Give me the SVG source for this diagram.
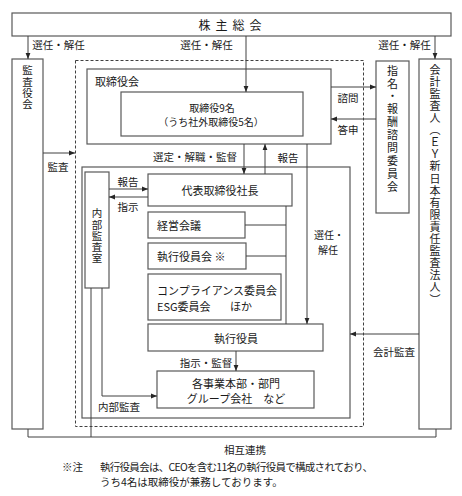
<svg xmlns="http://www.w3.org/2000/svg" width="462" height="496" viewBox="0 0 462 496">
<style>
.box{fill:#fff;stroke:#595959;stroke-width:1.2}
.dash{fill:none;stroke:#404040;stroke-width:1;stroke-dasharray:3 2}
.ln{fill:none;stroke:#404040;stroke-width:1}
.arr{marker-end:url(#ah)}
text{font-family:"Noto Sans CJK JP","Noto Sans",sans-serif;fill:#1a1a1a;dominant-baseline:central}
.b{font-size:11px}
.l{font-size:10.5px}
.s{font-size:10px}
.m{text-anchor:middle}
text.vt{writing-mode:vertical-rl;dominant-baseline:auto;font-size:10.5px}
</style>
<defs>
<marker id="ah" viewBox="0 0 10 10" refX="10" refY="5" markerWidth="6" markerHeight="6" orient="auto" markerUnits="userSpaceOnUse">
<path d="M0,1 L10,5 L0,9 z" fill="#262626"/>
</marker>
</defs>
<rect width="462" height="496" fill="#fff"/>

<g id="exec-area">
<rect class="dash" x="75.5" y="60.5" width="288" height="366"/>
<rect class="box" x="82" y="167" width="268" height="251"/>
</g>

<g id="shareholders">
<rect class="box" x="12" y="13" width="439" height="23"/>
<text x="232.5" y="24.5" text-anchor="middle" style="font-size:12px;letter-spacing:5px">株主総会</text>
</g>

<g id="kansayakukai">
<rect class="box" x="12" y="59" width="31" height="370"/>
<text class="vt" x="27.5" y="65" style="letter-spacing:0.8px">監査役会</text>
</g>

<g id="board">
<rect class="box" x="87" y="69" width="244" height="75"/>
<text class="b" x="95" y="81">取締役会</text>
</g>

<g id="directors">
<rect class="box" x="121" y="92" width="182" height="44"/>
<text class="s m" x="212" y="107">取締役9名</text>
<text class="s m" x="211" y="121">（うち社外取締役5名）</text>
</g>

<g id="nomination">
<rect class="box" x="376" y="61" width="33" height="152"/>
<text class="vt" x="392.5" y="65" style="font-size:11px;letter-spacing:1.9px">指名・報酬諮問委員会</text>
</g>

<g id="auditor">
<rect class="box" x="419" y="59" width="32" height="370"/>
<text class="vt" x="435" y="64" style="font-size:11px;letter-spacing:1.1px">会計監査人（ＥＹ新日本有限責任監査法人）</text>
</g>

<g id="internal-audit">
<rect class="box" x="85" y="172" width="24" height="116"/>
<text class="vt" x="97" y="208" style="letter-spacing:0.8px">内部監査室</text>
</g>

<g id="president">
<rect class="box" x="148" y="174" width="144" height="32"/>
<text class="b m" x="220" y="190">代表取締役社長</text>
</g>

<g id="management-meeting">
<rect class="box" x="148" y="212" width="97" height="26"/>
<text class="b" x="157" y="225">経営会議</text>
</g>

<g id="exec-committee">
<rect class="box" x="148" y="243" width="98" height="26"/>
<text class="b" x="157" y="256">執行役員会 ※</text>
</g>

<g id="committees">
<rect class="box" x="148" y="274" width="133" height="46"/>
<text class="b" x="157" y="290">コンプライアンス委員会</text>
<text class="b" x="157" y="306">ESG委員会<tspan x="230">ほか</tspan></text>
</g>

<g id="executives">
<rect class="box" x="148" y="324" width="175" height="27"/>
<text class="b m" x="236" y="337.5">執行役員</text>
</g>

<g id="divisions">
<rect class="box" x="157" y="371" width="157" height="37"/>
<text class="b m" x="236" y="383">各事業本部・部門</text>
<text class="b m" x="236" y="398">グループ会社　など</text>
</g>

<g id="connectors">
<path class="ln arr" d="M28,36 V59"/>
<path class="ln arr" d="M246,36 V92"/>
<path class="ln arr" d="M435,36 V59"/>
<path class="ln arr" d="M43,153 H75"/>
<path class="ln arr" d="M331,87 H376"/>
<path class="ln arr" d="M376,119 H331"/>
<path class="ln arr" d="M244,144 V174"/>
<path class="ln arr" d="M265,174 V144"/>
<path class="ln arr" d="M307,144 V324"/>
<path class="ln arr" d="M109,189 H148"/>
<path class="ln arr" d="M148,197 H109"/>
<path class="ln" d="M286,206 V324 M245,225 H286 M246,256 H286"/>
<path class="ln arr" d="M236,351 V371"/>
<path class="ln arr" d="M102,288 V396 H157"/>
<path class="ln" d="M28,429 V437 H436 V429 M91,288 V437"/>
<path class="ln arr" d="M419,334 H350"/>

<text class="l m" x="58.5" y="44">選任・解任</text>
<text class="l m" x="206.5" y="44">選任・解任</text>
<text class="l m" x="404.5" y="44">選任・解任</text>
<text class="l m" x="195" y="156">選定・解職・監督</text>
<text class="l m" x="288" y="157">報告</text>
<text class="l m" x="348" y="97">諮問</text>
<text class="l m" x="348" y="129">答申</text>
<text class="l m" x="58" y="166">監査</text>
<text class="l m" x="128" y="181">報告</text>
<text class="l m" x="128" y="206">指示</text>
<text class="s m" x="329" y="234">選任・</text>
<text class="s m" x="328" y="249">解任</text>
<text class="l m" x="206" y="362">指示・監督</text>
<text class="l m" x="119" y="406">内部監査</text>
<text class="l m" x="394" y="351">会計監査</text>
<text class="l m" x="245" y="449">相互連携</text>
</g>

<g id="footnote">
<text class="l" x="62" y="466">※注</text>
<text class="l" x="100" y="466" textLength="273" lengthAdjust="spacing">執行役員会は、CEOを含む11名の執行役員で構成されており、</text>
<text class="l" x="100" y="481">うち4名は取締役が兼務しております。</text>
</g>
</svg>
